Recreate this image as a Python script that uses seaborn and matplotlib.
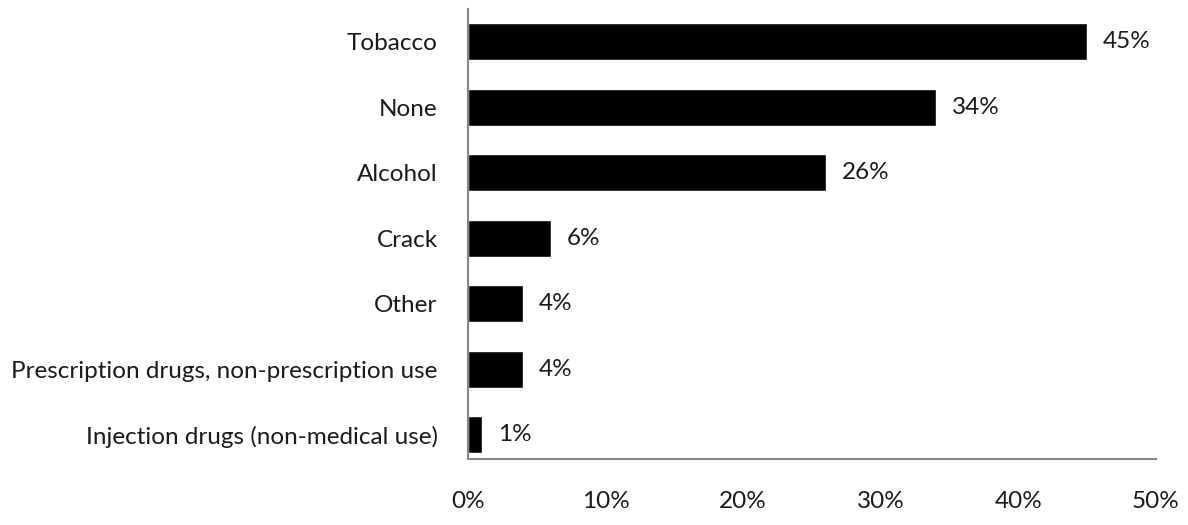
import matplotlib
matplotlib.use('Agg')
import matplotlib.pyplot as plt
import seaborn as sns
import pandas as pd

sns.set_style('white')
plt.rcParams['font.family'] = ['Lato', 'DejaVu Sans']

# Data
substances = ['Tobacco', 'None', 'Alcohol', 'Crack', 'Other',
              'Prescription drugs, non-prescription use',
              'Injection drugs (non-medical use)']
percent = [45, 34, 26, 6, 4, 4, 1]
x_ticks = [0, 10, 20, 30, 40, 50]
x_tick_labels = ['0%', '10%', '20%', '30%', '40%', '50%']

df = pd.DataFrame({'substance': substances, 'percent': percent})

fig = plt.figure(figsize=(11.88, 5.25), dpi=100)
ax = fig.add_axes([0.394, 0.1257, 0.579, 0.8573])

sns.barplot(data=df, x='percent', y='substance', orient='h', color='black',
            width=0.565, saturation=1, ax=ax)

ax.bar_label(ax.containers[0], labels=[f'{v}%' for v in percent],
             padding=11.5, fontsize=17.5, color='#1a1a1a')

ax.set_xlim(0, 50)
ax.set_ylim(6.37, -0.5)
ax.set_xticks(x_ticks)
ax.set_xticklabels(x_tick_labels)
ax.set_xlabel('')
ax.set_ylabel('')
ax.tick_params(axis='x', length=0, pad=23, labelsize=17.5, labelcolor='#1a1a1a')
ax.tick_params(axis='y', length=0, pad=22, labelsize=17.5, labelcolor='#1a1a1a')

for side in ['top', 'right']:
    ax.spines[side].set_visible(False)
for side in ['left', 'bottom']:
    ax.spines[side].set_color('#868686')
    ax.spines[side].set_linewidth(1.5)

fig.savefig('out.png', dpi=100)
